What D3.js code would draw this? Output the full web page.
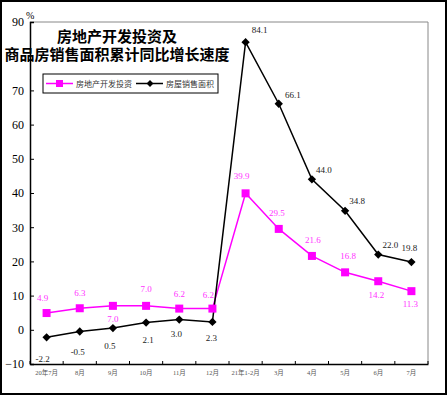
<!DOCTYPE html>
<html>
<head>
<meta charset="utf-8">
<script src="https://cdn.jsdelivr.net/npm/d3@7"></script>
<style>
body { margin: 0; background: #fff; }
text { font-family: "Liberation Serif", "Noto Sans CJK SC", serif; }
.cjk { font-family: "Liberation Serif", "Noto Sans CJK SC", sans-serif; }
</style>
</head>
<body>
<script>
var months = ["20年7月", "8月", "9月", "10月", "11月", "12月", "21年1-2月", "3月", "4月", "5月", "6月", "7月"];
var invest = [4.9, 6.3, 7.0, 7.0, 6.2, 6.2, 39.9, 29.5, 21.6, 16.8, 14.2, 11.3];
var sales = [-2.2, -0.5, 0.5, 2.1, 3.0, 2.3, 84.1, 66.1, 44.0, 34.8, 22.0, 19.8];
var yTicks = [-10, 0, 10, 20, 30, 40, 50, 60, 70, 90];

// label offsets [dx, dy] relative to the point
var investLab = [[-4, -12], [0, -12], [0, 16], [0, -14], [0, -12], [-4, -11], [-4, -14], [-2, -13], [1, -13], [3, -13], [-2, 17], [-1, 16]];
var salesLab = [[-4, 25], [-2, 23], [-3, 21], [2, 20], [-3, 17], [-1, 19], [14, -9], [14, -6], [12, -6], [12, -7], [12, -7], [-2, -11]];

var W = 448, H = 396;
var pLeft = 30, pRight = 428, pTop = 22, pBottom = 364;

var svg = d3.select("body").append("svg")
	.attr("width", W)
	.attr("height", H);

svg.append("rect")
	.attr("x", 1).attr("y", 1)
	.attr("width", W - 3).attr("height", H - 3)
	.attr("fill", "#fff")
	.attr("stroke", "#000")
	.attr("stroke-width", 2);

var x = d3.scaleBand().domain(months).range([pLeft, pRight]);
var y = d3.scaleLinear().domain([-10, 90]).range([pBottom, pTop]);
var cx = function(i){ return x(months[i]) + x.bandwidth() / 2; };

// plot frame (top and right in grey)
svg.append("path")
	.attr("d", "M" + pLeft + "," + pTop + "H" + pRight + "V" + pBottom)
	.attr("fill", "none")
	.attr("stroke", "#888")
	.attr("stroke-width", 1);

// y axis
var yAxis = d3.axisLeft(y).tickValues(yTicks).tickSize(-4).tickPadding(6);
var gy = svg.append("g").attr("transform", "translate(" + pLeft + ",0)").call(yAxis);
gy.select(".domain").attr("stroke-width", 1.5);
gy.selectAll("text").attr("font-size", 12).attr("fill", "#000");

svg.append("text")
	.attr("x", 26).attr("y", 19)
	.attr("font-size", 10)
	.text("%");

// x axis
var xAxis = d3.axisBottom(x).tickSize(0).tickPadding(6);
var gx = svg.append("g").attr("transform", "translate(0," + pBottom + ")").call(xAxis);
gx.select(".domain").attr("stroke-width", 1.5);
gx.selectAll("text").attr("font-size", 6.5).attr("fill", "#555").attr("class", "cjk");
gx.selectAll(".sep").data(d3.range(months.length + 1)).enter()
	.append("line")
	.attr("x1", function(d){ return pLeft + d * x.step(); })
	.attr("x2", function(d){ return pLeft + d * x.step(); })
	.attr("y1", 0).attr("y2", -3)
	.attr("stroke", "#000");

// lines
var line = d3.line().x(function(d, i){ return cx(i); }).y(function(d){ return y(d); });

svg.append("path").datum(invest)
	.attr("d", line).attr("fill", "none")
	.attr("stroke", "#ff00ff").attr("stroke-width", 1.5);

svg.append("path").datum(sales)
	.attr("d", line).attr("fill", "none")
	.attr("stroke", "#000").attr("stroke-width", 1.5);

svg.selectAll(".sq").data(invest).enter()
	.append("rect")
	.attr("x", function(d, i){ return cx(i) - 4; })
	.attr("y", function(d){ return y(d) - 4; })
	.attr("width", 8).attr("height", 8)
	.attr("fill", "#ff00ff");

svg.selectAll(".dm").data(sales).enter()
	.append("path")
	.attr("d", d3.symbol().type(d3.symbolDiamond2).size(44))
	.attr("transform", function(d, i){ return "translate(" + cx(i) + "," + y(d) + ")"; })
	.attr("fill", "#000");

// value labels
svg.selectAll(".il").data(invest).enter()
	.append("text")
	.attr("x", function(d, i){ return cx(i) + investLab[i][0]; })
	.attr("y", function(d, i){ return y(d) + investLab[i][1]; })
	.attr("text-anchor", "middle")
	.attr("font-size", 9)
	.attr("fill", "#ff33ff")
	.text(function(d){ return d.toFixed(1); });

svg.selectAll(".sl").data(sales).enter()
	.append("text")
	.attr("x", function(d, i){ return cx(i) + salesLab[i][0]; })
	.attr("y", function(d, i){ return y(d) + salesLab[i][1]; })
	.attr("text-anchor", "middle")
	.attr("font-size", 9)
	.attr("fill", "#222")
	.text(function(d){ return d.toFixed(1); });

// title
var title = svg.append("text")
	.attr("text-anchor", "middle")
	.attr("font-size", 15)
	.attr("font-weight", "bold")
	.attr("class", "cjk")
	.attr("fill", "#000");
title.append("tspan").attr("x", 117).attr("y", 42).text("房地产开发投资及");
title.append("tspan").attr("x", 117).attr("y", 60).text("商品房销售面积累计同比增长速度");

// legend
var lg = svg.append("g").attr("transform", "translate(43,74)");
lg.append("rect")
	.attr("width", 175).attr("height", 19)
	.attr("fill", "#fff").attr("stroke", "#000").attr("stroke-width", 1);
lg.append("line").attr("x1", 3).attr("x2", 30).attr("y1", 9.5).attr("y2", 9.5)
	.attr("stroke", "#ff00ff").attr("stroke-width", 1.5);
lg.append("rect").attr("x", 13).attr("y", 6).attr("width", 7).attr("height", 7).attr("fill", "#ff00ff");
lg.append("text").attr("x", 33).attr("y", 13).attr("font-size", 8).attr("fill", "#333")
	.attr("class", "cjk").text("房地产开发投资");
lg.append("line").attr("x1", 93).attr("x2", 120).attr("y1", 9.5).attr("y2", 9.5)
	.attr("stroke", "#000").attr("stroke-width", 1.5);
lg.append("path").attr("d", d3.symbol().type(d3.symbolDiamond2).size(30))
	.attr("transform", "translate(107,9.5)").attr("fill", "#000");
lg.append("text").attr("x", 123).attr("y", 13).attr("font-size", 8).attr("fill", "#333")
	.attr("class", "cjk").text("房屋销售面积");
</script>
</body>
</html>
